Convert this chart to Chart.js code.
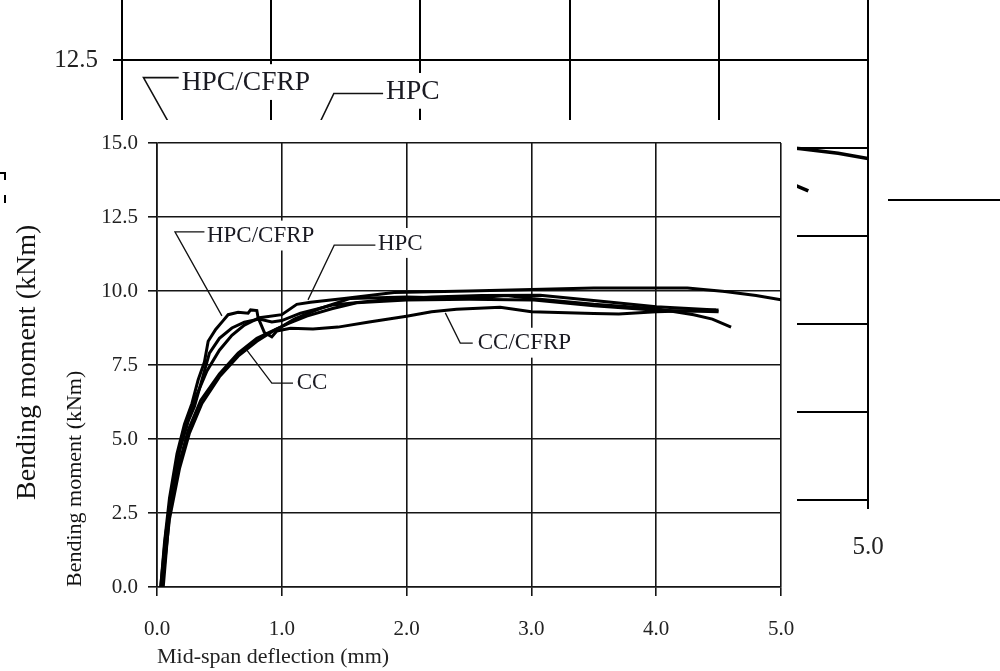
<!DOCTYPE html>
<html><head><meta charset="utf-8">
<script src="https://cdn.jsdelivr.net/npm/chart.js@4"></script>
<style>
html,body{margin:0;padding:0;background:#fff;width:1000px;height:671px;overflow:hidden;position:relative}
#bgWrap{position:absolute;left:0;top:-60px;width:1000px;height:731px}
#mainWrap{position:absolute;left:48px;top:120px;width:749px;height:551px;background:#fff}
.frag{position:absolute;background:#000}
canvas{display:block}
</style></head><body>
<div id="bgWrap"><canvas id="bg" width="1000" height="731" style="width:1000px;height:731px"></canvas></div>
<div class="frag" style="left:888px;top:199px;width:112px;height:2px"></div>
<div class="frag" style="left:0px;top:172px;width:6px;height:2px"></div>
<div class="frag" style="left:4px;top:172px;width:2px;height:8px"></div>
<div class="frag" style="left:4px;top:195px;width:2px;height:8px"></div>
<div id="mainWrap"><canvas id="main" width="749" height="551" style="width:749px;height:551px"></canvas></div>
<script>
// ---- data (mid-span deflection in mm, bending moment in kNm) ----
const xTicks = [0, 1, 2, 3, 4, 5];
const yTicks = [0, 2.5, 5, 7.5, 10, 12.5, 15];

const ccCfrpX = [0.03,0.06,0.10,0.16,0.22,0.28,0.33,0.38,0.41,0.47,0.53,0.57,0.65,0.73,0.75,0.80,0.81,0.86,0.92,0.96,1.07,1.25,1.45,1.70,2.00,2.20,2.40,2.75,3.00,3.50,3.70,4.00,4.50];
const ccCfrpY = [0,1.5,3.0,4.5,5.5,6.2,7.0,7.6,8.3,8.7,9.0,9.2,9.28,9.25,9.36,9.34,9.1,8.6,8.45,8.65,8.74,8.72,8.78,8.95,9.15,9.3,9.38,9.45,9.3,9.24,9.22,9.3,9.36];

const hpcX = [0.04,0.08,0.14,0.20,0.30,0.40,0.50,0.60,0.70,0.82,1.00,1.12,1.23,1.50,1.90,2.50,3.00,3.50,4.00,4.25,4.55,4.80,5.00];
const hpcY = [0,2.0,3.8,5.0,6.3,7.3,8.0,8.5,8.85,9.1,9.2,9.55,9.62,9.75,9.95,10.0,10.05,10.1,10.1,10.1,9.98,9.85,9.7];

const hpcCfrpX = [0.03,0.07,0.12,0.18,0.25,0.30,0.36,0.42,0.50,0.60,0.70,0.82,0.92,1.00,1.15,1.41,1.81,2.20,2.60,3.07,3.60,4.00,4.48];
const hpcCfrpY = [0,1.8,3.2,4.6,5.6,6.1,7.0,7.9,8.4,8.75,8.95,9.05,8.95,9.0,9.25,9.53,9.7,9.8,9.85,9.86,9.64,9.47,9.36];

const ccX = [0.05,0.10,0.18,0.25,0.35,0.50,0.65,0.80,0.90,1.00,1.10,1.30,1.55,2.00,2.50,2.80,3.00,3.50,4.00,4.30,4.45,4.60];
const ccY = [0,2.5,4.2,5.3,6.3,7.2,7.9,8.4,8.6,8.8,9.05,9.4,9.75,9.8,9.75,9.85,9.75,9.55,9.4,9.2,9.05,8.78];

const cc2X = [0.04,0.10,0.18,0.26,0.36,0.50,0.65,0.80,0.95,1.05,1.20,1.40,1.60,2.00,2.50,3.00,3.50,4.00,4.50];
const cc2Y = [0,2.3,4.0,5.2,6.2,7.1,7.8,8.3,8.7,8.9,9.15,9.4,9.6,9.7,9.72,9.7,9.5,9.35,9.3];

// ---- curve labels and leader lines (data units) ----
const labelTexts = ['HPC/CFRP', 'HPC', 'CC', 'CC/CFRP'];
const labelX = [0.40, 1.77, 1.12, 2.57];
const labelY = [11.85, 11.6, 6.91, 8.23];
const leaderX = [[0.38,0.144,0.52],[1.75,1.42,1.21],[1.09,0.92,0.72],[2.53,2.43,2.31]];
const leaderY = [[12.0,12.0,9.16],[11.55,11.55,9.7],[6.89,6.89,8.0],[8.24,8.24,9.26]];

const seriesX = [ccCfrpX, hpcX, hpcCfrpX, ccX, cc2X];
const seriesY = [ccCfrpY, hpcY, hpcCfrpY, ccY, cc2Y];
const seriesNames = ['CC/CFRP', 'HPC', 'HPC/CFRP', 'CC', 'CC (2)'];

const SERIF = '"Liberation Serif", "Times New Roman", serif';

const leaderPlugin = {
  id: 'leaders',
  afterDatasetsDraw(chart, args, opts) {
    const {ctx} = chart;
    const xs = chart.scales.x, ys = chart.scales.y;
    ctx.save();
    ctx.strokeStyle = '#111';
    ctx.lineWidth = opts.lineWidth;
    leaderX.forEach((lx, i) => {
      ctx.beginPath();
      lx.forEach((v, j) => {
        const px = xs.getPixelForValue(v), py = ys.getPixelForValue(leaderY[i][j]);
        if (j === 0) ctx.moveTo(px, py); else ctx.lineTo(px, py);
      });
      ctx.stroke();
    });
    const f = opts.fontSize;
    ctx.font = f + 'px ' + SERIF;
    ctx.textBaseline = 'middle';
    ctx.textAlign = 'left';
    labelTexts.forEach((t, i) => {
      const px = xs.getPixelForValue(labelX[i]), py = ys.getPixelForValue(labelY[i]);
      const w = ctx.measureText(t).width;
      ctx.fillStyle = '#fff';
      ctx.fillRect(px - 1, py - 0.68 * f, w + 2, 1.3 * f);
      ctx.fillStyle = '#1a1a22';
      ctx.fillText(t, px, py);
    });
    ctx.restore();
  }
};

function makeChart(id, o) {
  const datasets = seriesX.map((xs, i) => ({
    label: seriesNames[i],
    data: xs.map((x, j) => ({x: x, y: seriesY[i][j]})),
    borderColor: '#000',
    backgroundColor: '#000',
    borderWidth: o.curveWidth,
    pointRadius: 0,
    showLine: true,
    tension: 0,
    fill: false
  }));
  return new Chart(document.getElementById(id), {
    type: 'scatter',
    data: {datasets},
    plugins: [leaderPlugin],
    options: {
      responsive: false,
      animation: false,
      devicePixelRatio: 1,
      layout: {padding: o.pad},
      plugins: {legend: {display: false}, tooltip: {enabled: false}, leaders: {lineWidth: o.leaderWidth, fontSize: o.labelFont}},
      scales: {
        x: {
          type: 'linear', min: 0, max: 5,
          afterBuildTicks: s => { s.ticks = xTicks.map(v => ({value: v})); },
          afterFit: s => { s.height = o.xHeight; s.paddingLeft = 0; s.paddingRight = 0; },
          ticks: {callback: v => Number(v).toFixed(1), font: {family: SERIF, size: o.tickFont}, color: '#222', padding: o.xTickPad, maxRotation: 0, autoSkip: false},
          grid: {color: o.gridColor, lineWidth: o.gridWidth, tickLength: o.tickLen, tickColor: o.gridColor},
          border: {color: o.gridColor, width: o.gridWidth},
          title: {display: o.xTitle, text: 'Mid-span deflection (mm)', align: 'start', color: '#222', font: {family: SERIF, size: o.xTitleFont}, padding: {top: 0, bottom: 1}}
        },
        y: {
          type: 'linear', min: 0, max: 15,
          afterBuildTicks: s => { s.ticks = yTicks.map(v => ({value: v})); },
          afterFit: s => { s.width = o.yWidth; s.paddingTop = 0; s.paddingBottom = 0; },
          ticks: {callback: v => Number(v).toFixed(1), font: {family: SERIF, size: o.tickFont}, color: '#222', padding: o.yTickPad, autoSkip: false},
          grid: {color: o.gridColor, lineWidth: o.gridWidth, tickLength: o.tickLen, tickColor: o.gridColor},
          border: {color: o.gridColor, width: o.gridWidth},
          title: {display: true, text: 'Bending moment (kNm)', align: 'start', color: '#111', font: {family: SERIF, size: o.yTitleFont}, padding: {top: o.yTitlePad, bottom: 0}}
        }
      }
    }
  });
}

// enlarged copy behind
makeChart('bg', {
  pad: {left: 0, top: 32, right: 132, bottom: 0},
  xHeight: 171, yWidth: 122, tickFont: 25, xTickPad: 23, yTickPad: 15, tickLen: 9,
  gridColor: '#000', gridWidth: 2, curveWidth: 3.6, leaderWidth: 1.6, labelFont: 27.5,
  xTitle: false, xTitleFont: 26, yTitleFont: 28, yTitlePad: 11
});
// main chart
makeChart('main', {
  pad: {left: 7, top: 23, right: 16, bottom: 0},
  xHeight: 84, yWidth: 102, tickFont: 21, xTickPad: 21, yTickPad: 10, tickLen: 9,
  gridColor: '#151515', gridWidth: 1.6, curveWidth: 3, leaderWidth: 1.3, labelFont: 23,
  xTitle: true, xTitleFont: 22, yTitleFont: 22, yTitlePad: 7
});
</script>
</body></html>
